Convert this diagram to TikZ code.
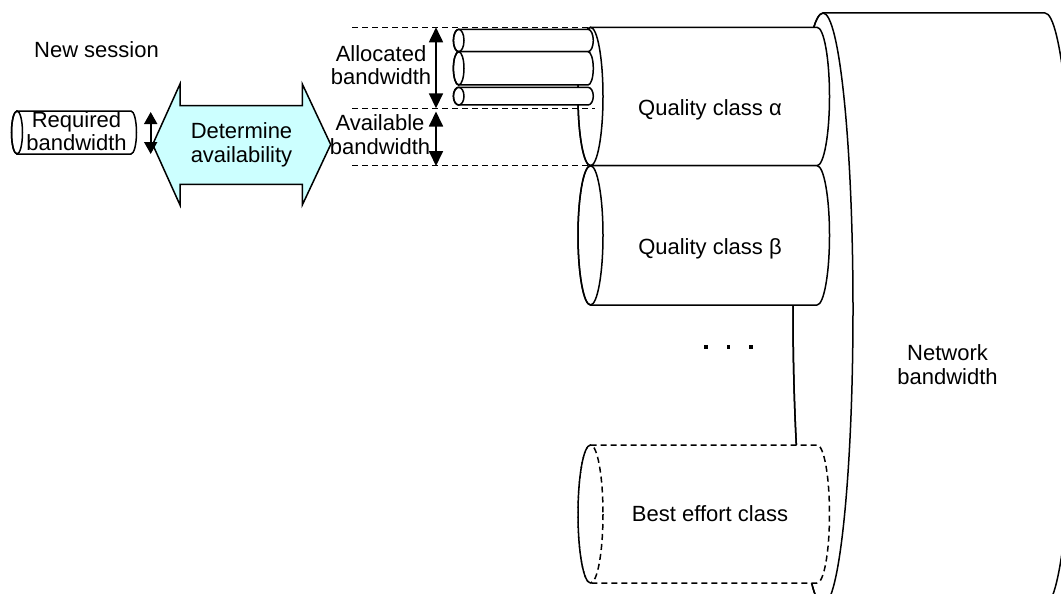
\documentclass[tikz,border=0pt]{standalone}
\usepackage{fontspec}
\setmainfont{Liberation Sans}
\usetikzlibrary{arrows.meta}

% Horizontal cylinder: [style]{left cx}{right cx}{top y}{bottom y}{end x-radius}
\newcommand{\hcyl}[6][]{%
  \pgfmathsetmacro{\cylry}{(#5-#4)/2}%
  \pgfmathsetmacro{\cylcy}{(#5+#4)/2}%
  \filldraw[fill=white,#1] (#2,#4) -- (#3,#4)
    arc[start angle=-90,end angle=90,x radius=#6,y radius=\cylry]
    -- (#2,#5)
    arc[start angle=90,end angle=270,x radius=#6,y radius=\cylry] -- cycle;
  \draw[#1] (#2,\cylcy) ellipse[x radius=#6,y radius=\cylry];
}

\definecolor{arrowfill}{HTML}{CCFFFF}

\begin{document}
\begin{tikzpicture}[x=1pt,y=-1pt,line width=1.5pt,
  lbl/.style={font=\fontsize{22}{23.3}\selectfont,inner sep=0pt,align=center},
  guide/.style={dash pattern=on 6pt off 4pt,line width=1.4pt},
  besteffort/.style={dash pattern=on 6pt off 4pt},
  dblbig/.style={{Triangle[width=14pt,length=15pt]}-{Triangle[width=14pt,length=15pt]},line width=1.8pt},
  dblsmall/.style={{Triangle[width=13pt,length=12pt]}-{Triangle[width=13pt,length=12pt]},line width=1.8pt}]
\useasboundingbox (0,0) rectangle (1061,594);
\clip (0,0) rectangle (1061,594);

% network bandwidth pipe
\hcyl{823}{1045}{13}{605}{30}

% quality classes
\hcyl{590.5}{817}{27.3}{165.7}{12.5}
\hcyl{590.5}{817}{165.7}{305}{12.5}
\hcyl[besteffort]{590.5}{817}{445}{583}{12.5}

% guide lines for the bandwidth shares
\coordinate (g1a) at (352,27.3);  \coordinate (g1b) at (590.5,27.3);
\coordinate (g2a) at (352,108.3); \coordinate (g2b) at (595,108.3);
\coordinate (g3a) at (352,165.7); \coordinate (g3b) at (590.5,165.7);
\draw[guide] (g1a) -- (g1b);
\draw[guide] (g2a) -- (g2b);
\draw[guide] (g3a) -- (g3b);

% sessions already admitted
\hcyl{458.7}{588}{29.3}{51.7}{5.3}
\hcyl{458.7}{588}{51.7}{85}{5.3}
\hcyl{458.7}{588}{87.3}{105}{5.3}

% allocated / available extents
\coordinate (a1t) at (436,27.3);  \coordinate (a1b) at (436,108.3);
\coordinate (a2t) at (436,111.5); \coordinate (a2b) at (436,166);
\draw[dblbig] (a1t) -- (a1b);
\draw[dblbig] (a2t) -- (a2b);

% admission check arrow
\filldraw[fill=arrowfill] (152.7,144.5) -- (180,84) -- (180,105.7) -- (302.3,105.7)
  -- (302.3,84) -- (330.7,144.5) -- (302.3,205) -- (302.3,184.3) -- (180,184.3)
  -- (180,205) -- cycle;

% new session request
\hcyl{17}{131}{111}{154}{5.5}
\coordinate (rt) at (150.7,112); \coordinate (rb) at (150.7,154);
\draw[dblsmall] (rt) -- (rb);

% ellipsis between classes
\foreach \dx in {706,728.5,751}
  \fill (\dx-1.7,345.3) rectangle ++(3.4,3.4);

% labels
\node[lbl,anchor=base] (newsess) at (96.5,58) {New session};
\node[lbl] (reqbw) at (76.5,131) {Required\\bandwidth};
\node[lbl] (det) at (241.5,144.8) {Determine\\availability};
\node[lbl] (alloc) at (381,65.3) {Allocated\\bandwidth};
\node[lbl] (avail) at (380,134.5) {Available\\bandwidth};
\node[lbl,anchor=base] (qa) at (710,115) {Quality class α};
\node[lbl,anchor=base] (qb) at (710,254.3) {Quality class β};
\node[lbl,anchor=base] (be) at (710,521.7) {Best effort class};
\node[lbl] (net) at (947.5,364.5) {Network\\bandwidth};
\end{tikzpicture}
\end{document}
